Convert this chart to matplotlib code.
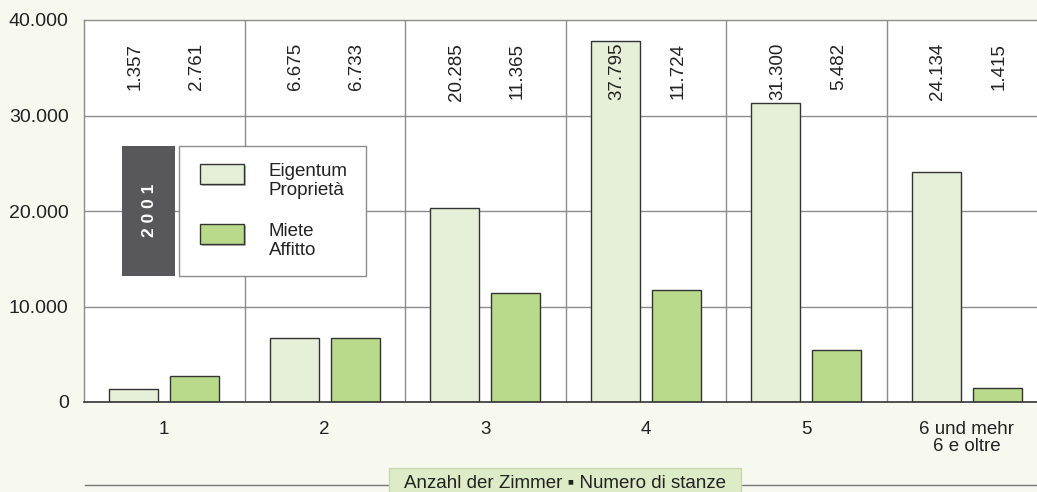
import matplotlib
matplotlib.use("Agg")
import matplotlib.pyplot as plt
from matplotlib.patches import Rectangle
import numpy as np

plt.rcParams['font.family'] = ['Liberation Sans', 'DejaVu Sans']

categories = ["1", "2", "3", "4", "5", "6 und mehr\n6 e oltre"]
eigentum = [1357, 6675, 20285, 37795, 31300, 24134]
miete = [2761, 6733, 11365, 11724, 5482, 1415]
eig_labels = ["1.357", "6.675", "20.285", "37.795", "31.300", "24.134"]
miete_labels = ["2.761", "6.733", "11.365", "11.724", "5.482", "1.415"]
yticks = [0, 10000, 20000, 30000, 40000]
ytick_labels = ["0", "10.000", "20.000", "30.000", "40.000"]

W, H = 1037, 492
bg = "#F7F9F1"
c_eig = "#E6F0D8"
c_mie = "#B9D98B"
grid_c = "#8C8C8C"

fig = plt.figure(figsize=(W/100, H/100), dpi=100, facecolor=bg)
ax = fig.add_axes([84/W, (H-402)/H, (W-84)/W, (402-20)/H])
ax.set_facecolor("white")

x = np.arange(len(categories))
bw = 0.305
off = 0.19
ax.bar(x - off, eigentum, bw, color=c_eig, edgecolor="#333333", linewidth=1.0, zorder=3)
ax.bar(x + off, miete, bw, color=c_mie, edgecolor="#333333", linewidth=1.0, zorder=3)

for i in range(len(categories)):
    ax.text(x[i] - off + 0.01, 0.94, eig_labels[i], transform=ax.get_xaxis_transform(),
            rotation=90, ha="center", va="top", fontsize=13.5, color="#222222", zorder=4)
    ax.text(x[i] + off + 0.01, 0.94, miete_labels[i], transform=ax.get_xaxis_transform(),
            rotation=90, ha="center", va="top", fontsize=13.5, color="#222222", zorder=4)

ax.set_ylim(0, 40000)
ax.set_xlim(-0.5, -0.5 + (W-84)/160.5)
ax.set_yticks(yticks)
ax.set_yticklabels(ytick_labels, fontsize=14, color="#222222")
ax.set_xticks(x)
ax.set_xticklabels(categories, fontsize=13.5, color="#222222", linespacing=1.05)
ax.tick_params(axis="y", length=0, pad=11)
ax.tick_params(axis="x", length=0, pad=13.5)

for yv in [10000, 20000, 30000]:
    ax.axhline(yv, color=grid_c, linewidth=1.0, zorder=1)
for xv in np.arange(0.5, 5.5, 1.0):
    ax.axvline(xv, color=grid_c, linewidth=1.0, zorder=1)

for s in ["top", "left", "right"]:
    ax.spines[s].set_color(grid_c)
    ax.spines[s].set_linewidth(1.0)
ax.spines["right"].set_visible(False)
ax.spines["bottom"].set_color("#333333")
ax.spines["bottom"].set_linewidth(1.2)
ax.spines["bottom"].set_zorder(5)

# Legend (figure pixel coords)
def px(xp, yp):
    return xp / W, (H - yp) / H

tf = fig.transFigure
x0, y0 = px(122, 276)
fig.patches.append(Rectangle((x0, y0), 53/W, 130/H, transform=tf, facecolor="#58585A",
                             edgecolor="none", zorder=10))
fig.text(*px(149, 210), "2 0 0 1", rotation=90, ha="center", va="center", color="white",
         fontsize=12.5, fontweight="bold", zorder=11)
x1, y1 = px(179, 276)
fig.patches.append(Rectangle((x1, y1), 187/W, 130/H, transform=tf, facecolor="white",
                             edgecolor=grid_c, linewidth=1.0, zorder=10))
for (yp, col, lab) in [(184, c_eig, "Eigentum\nProprietà"), (244, c_mie, "Miete\nAffitto")]:
    sx, sy = px(202, yp + 2)
    fig.patches.append(Rectangle((sx, sy), 44/W, 20/H, transform=tf, facecolor="#BBBBBB",
                                 edgecolor="none", zorder=10.5))
    ex, ey = px(200, yp)
    fig.patches.append(Rectangle((ex, ey), 44/W, 20/H, transform=tf, facecolor=col,
                                 edgecolor="#333333", linewidth=1.0, zorder=11))
    fig.text(*px(269, yp - 3), lab, ha="left", va="center", fontsize=13.5, color="#222222",
             linespacing=1.15, zorder=12)

# bottom axis title bar
lx0, ly = px(85, 485)
fig.add_artist(plt.Line2D([lx0, 1.0], [ly, ly], transform=tf, color="#777777", linewidth=1.0, zorder=9))
bx, by = px(389, 494)
fig.patches.append(Rectangle((bx, by), 352/W, 26/H, transform=tf, facecolor="#DDEBC6",
                             edgecolor="#C8D8B0", linewidth=1.0, zorder=10))
fig.text(*px(565, 483), "Anzahl der Zimmer \u25aa Numero di stanze", ha="center", va="center",
         fontsize=13.5, color="#222222", zorder=11)

fig.savefig("out.png", dpi=100, facecolor=bg)
